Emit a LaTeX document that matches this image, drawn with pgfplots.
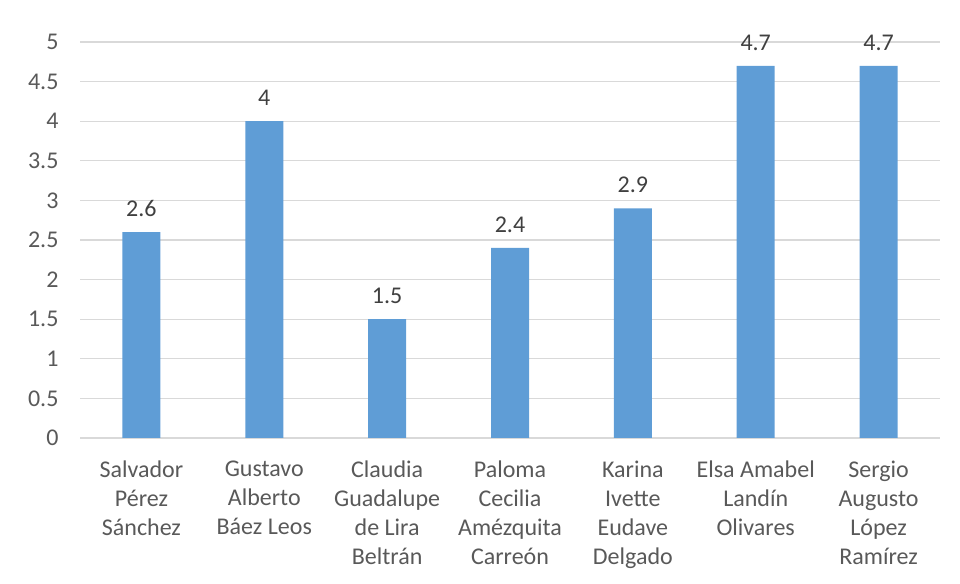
\documentclass[border=0pt]{standalone}
\usepackage{pgfplots}
\pgfplotsset{compat=1.18}
\usepackage{fontspec}
\setmainfont{Carlito}
\definecolor{barblue}{HTML}{5F9DD6}
\definecolor{txt}{HTML}{595959}
\definecolor{gridc}{HTML}{D9D9D9}
\begin{document}
\begin{tikzpicture}
\useasboundingbox (0,0) rectangle (960pt,583pt);
\begin{axis}[
  at={(80pt,145pt)}, anchor=south west,
  scale only axis, width=860pt, height=396pt,
  xmin=-0.5, xmax=6.5, ymin=0, ymax=5,
  ytick={0,0.5,...,5},
  yticklabels={0,0.5,1,1.5,2,2.5,3,3.5,4,4.5,5},
  xtick={0,...,6},
  xticklabels={{Salvador\\Pérez\\Sánchez},{Gustavo\\Alberto\\Báez Leos},{Claudia\\Guadalupe\\de Lira\\Beltrán},{Paloma\\Cecilia\\Amézquita\\Carreón},{Karina\\Ivette\\Eudave\\Delgado},{Elsa Amabel\\Landín\\Olivares},{Sergio\\Augusto\\López\\Ramírez}},
  xticklabel style={align=center, font=\fontsize{24}{29}\selectfont, text=txt, anchor=north, yshift=-19pt},
  yticklabel style={font=\fontsize{24}{29}\selectfont, text=txt, xshift=-18pt},
  major tick length=0pt,
  xmajorgrids=false, ymajorgrids=true,
  major grid style={draw=gridc, line width=1.3pt},
  axis lines=left,
  y axis line style={draw=none},
  x axis line style={draw=gridc, line width=1.3pt, -},
  ybar, bar width=38pt,
  nodes near coords,
  every node near coord/.append style={font=\fontsize{24}{29}\selectfont, text=black!75, anchor=south, yshift=12pt},
  /pgf/number format/assume math mode=true,
]
\addplot[fill=barblue, draw=none] coordinates {(0,2.6) (1,4) (2,1.5) (3,2.4) (4,2.9) (5,4.7) (6,4.7)};
\end{axis}
\end{tikzpicture}
\end{document}
